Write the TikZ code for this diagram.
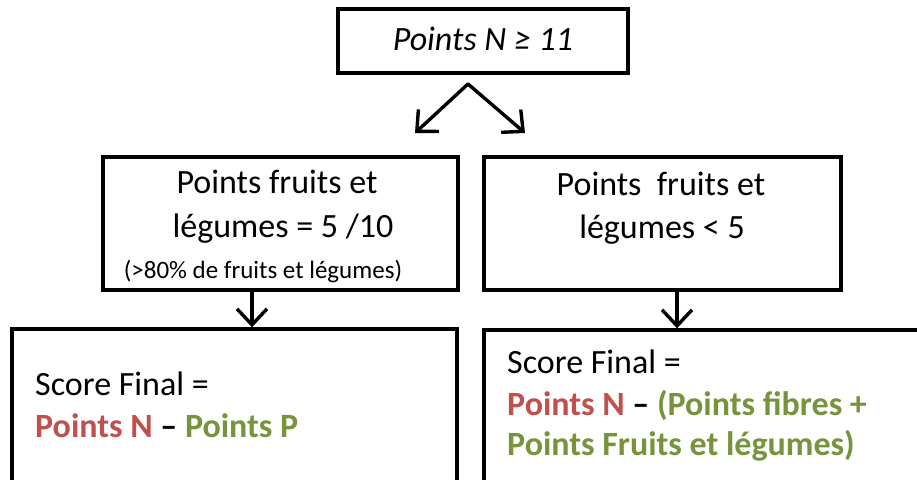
\documentclass[tikz,border=0pt]{standalone}
\usepackage{fontspec}
\setmainfont{Carlito}
\usetikzlibrary{arrows.meta}
\definecolor{nred}{RGB}{192,80,77}
\definecolor{pgreen}{RGB}{119,147,60}
\begin{document}
\begin{tikzpicture}[x=1pt,y=-1pt,
  box/.style={draw=black,line width=3.4pt,inner sep=0pt},
  conn/.style={line width=3.4pt,line cap=round,line join=round,-{Straight Barb[length=16pt,width=30pt,line width=3.4pt]}},
  big/.style={font=\fontsize{34}{41}\selectfont,inner sep=0pt,anchor=base},
  bigit/.style={font=\fontsize{34}{41}\selectfont\itshape,inner sep=0pt,anchor=base},
  small/.style={font=\fontsize{25}{30}\selectfont,inner sep=0pt,anchor=base},
  left/.style={font=\fontsize{34}{41}\selectfont,inner sep=0pt,anchor=base west}]
\clip (0,0) rectangle (917,479);
\fill[white] (0,0) rectangle (917,479);
% boxes
\node[box,minimum width=290pt,minimum height=64pt] (top) at (483,41) {};
\node[box,minimum width=355pt,minimum height=133pt] (ml) at (280.5,223.5) {};
\node[box,minimum width=357pt,minimum height=133pt] (mr) at (662.5,223.5) {};
\node[box,minimum width=445pt,minimum height=191pt] (bl) at (234.5,424.5) {};
\node[box,minimum width=456pt,minimum height=190pt] (br) at (712,425) {};
% V arrows
\coordinate (apex) at (468,84);
\coordinate (tl) at (415,133);
\coordinate (tr) at (525,133);
\draw[conn] (apex) -- (tl);
\draw[conn] (apex) -- (tr);
% down arrows
\draw[conn] (ml.south -| 252,0) -- (bl.north -| 252,0);
\draw[conn] (mr.south -| 677,0) -- (br.north -| 677,0);
% texts
\node[bigit] (t1) at (483,50) {Points N ≥ 11};
\node[big] (ml1) at (277,193) {Points fruits et};
\node[big] (ml2) at (283,237) {légumes = 5 /10};
\node[small] (ml3) at (263,278) {(>80\% de fruits et légumes)};
\node[big] (mr1) at (661,195) {Points\ \ fruits et};
\node[big] (mr2) at (662,238) {légumes < 5};
\node[left] (bl1) at (35,395) {Score Final =};
\node[left] (bl2) at (35,437) {\bfseries\textcolor{nred}{Points N} – \textcolor{pgreen}{Points P}};
\node[left] (br1) at (507,373) {Score Final =};
\node[left] (br2) at (507,415) {\bfseries\textcolor{nred}{Points N} – \textcolor{pgreen}{(Points fibres +}};
\node[left] (br3) at (507,455) {\bfseries\textcolor{pgreen}{Points Fruits et légumes)}};
\end{tikzpicture}
\end{document}
